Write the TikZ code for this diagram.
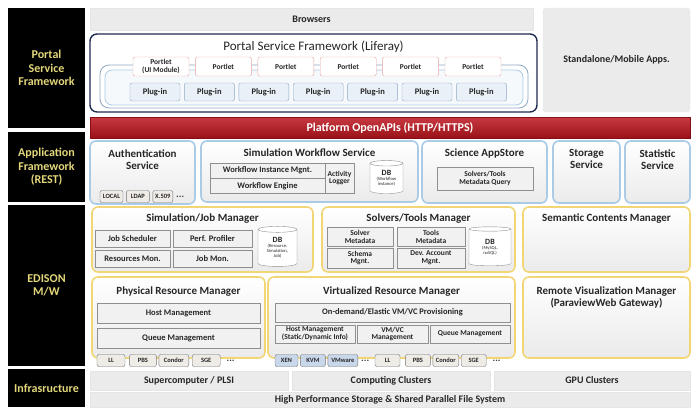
\documentclass[tikz,border=0pt]{standalone}
\usepackage{fontspec}
\setmainfont{Carlito}
\usetikzlibrary{shapes.geometric, positioning}

\definecolor{layertext}{HTML}{E3D77A}
\definecolor{apired}{HTML}{C0161F}
\definecolor{appblue}{HTML}{A9CBE6}
\definecolor{mwyellow}{HTML}{F2D675}
\definecolor{cellfill}{HTML}{F1F1F1}
\definecolor{cellline}{HTML}{8F8F8F}
\definecolor{portalnavy}{HTML}{1F2A4E}
\definecolor{portletred}{HTML}{E8A3A3}
\definecolor{pluginfill}{HTML}{E9F0F8}
\definecolor{pluginline}{HTML}{8EA8C3}
\definecolor{chipfill}{HTML}{EFEBE6}
\definecolor{vmfill}{HTML}{C9D7EA}
\definecolor{greybar}{HTML}{EBEBEB}

\newcommand{\dbnote}{\fontsize{4.6}{5}\selectfont}
\newcommand{\dbname}{\fontsize{8}{8.5}\selectfont\bfseries}

\tikzstyle{layer} = [fill=black, text=layertext, font=\fontsize{12}{13.5}\selectfont\bfseries, align=center, minimum width=77pt, inner sep=0pt]
\tikzstyle{greybox} = [fill=greybar, draw=black!10, text=black!85, font=\fontsize{10}{11}\selectfont\bfseries, align=center, inner sep=0pt]
\tikzstyle{portal} = [draw=portalnavy, line width=1.4pt, rounded corners=7pt, fill=white]
\tikzstyle{plugbox} = [draw=pluginline, line width=0.8pt, rounded corners=9pt, fill=white]
\tikzstyle{plugbed} = [draw=appblue, line width=0.8pt, rounded corners=7pt, fill=pluginfill!40]
\tikzstyle{portlet} = [draw=portletred, rounded corners=2pt, fill=white, text=black!85, font=\fontsize{7.5}{8}\selectfont\bfseries, align=center, inner sep=0pt, minimum width=56pt, minimum height=19pt]
\tikzstyle{plugin} = [draw=pluginline, rounded corners=2pt, fill=pluginfill, text=black!85, font=\fontsize{8.5}{9}\selectfont\bfseries, inner sep=0pt, minimum width=50pt, minimum height=18pt]
\tikzstyle{openapi} = [draw=apired!70!black, top color=apired!85!white, bottom color=apired!80!black, text=white, font=\fontsize{12}{13}\selectfont\bfseries, inner sep=0pt]
\tikzstyle{appbox} = [draw=appblue, line width=1.6pt, rounded corners=6pt, top color=white, bottom color=black!8]
\tikzstyle{mwbox} = [draw=mwyellow, line width=1.6pt, rounded corners=6pt, top color=white, bottom color=black!8]
\tikzstyle{title} = [font=\fontsize{11}{12}\selectfont\bfseries, text=black!85, align=center, inner sep=0pt]
\tikzstyle{cell} = [draw=cellline, fill=cellfill, text=black!85, font=\fontsize{8.5}{9}\selectfont\bfseries, align=center, inner sep=0pt]
\tikzstyle{cellsmall} = [cell, font=\fontsize{7.5}{7.8}\selectfont\bfseries]
\tikzstyle{chip} = [draw=black!55, rounded corners=2pt, fill=chipfill, text=black!85, font=\fontsize{6.5}{7}\selectfont\bfseries, inner sep=0pt, minimum height=12pt]
\tikzstyle{vmchip} = [chip, fill=vmfill]
\tikzstyle{dots} = [font=\fontsize{10}{10}\selectfont\bfseries, text=black!75, inner sep=0pt]
\tikzstyle{db} = [cylinder, shape border rotate=90, aspect=0.28, draw=cellline, fill=white, text=black!85, font=\dbnote, align=center, inner sep=0pt]

\begin{document}
\begin{tikzpicture}[x=1pt, y=-1pt]
    \useasboundingbox (0,0) rectangle (692,407);

    % layer names on the left
    \node (lportal) [layer, minimum height=120pt] at (46.5,68) {Portal\\Service\\Framework};
    \node (lapp) [layer, minimum height=70pt] at (46.5,167) {Application\\Framework\\(REST)};
    \node (ledison) [layer, minimum height=161pt] at (46.5,285.5) {EDISON\\M/W};
    \node (linfra) [layer, minimum height=38pt] at (46.5,388) {Infrasructure};

    % portal
    \node (browsers) [greybox, minimum width=443pt, minimum height=22pt] at (311.5,19) {Browsers};
    \node (mobile) [greybox, rounded corners=3pt, minimum width=147pt, minimum height=104pt] at (616.5,60) {Standalone/Mobile Apps.};
    \node (psf) [portal, minimum width=447pt, minimum height=78pt] at (313.5,73) {};
    \node (psft) [below=7pt of psf.north, inner sep=0pt, font=\fontsize{13}{14}\selectfont, text=black!85] {Portal Service Framework (Liferay)};
    \node (plugout) [plugbox, minimum width=428pt, minimum height=43pt] at (314,86.5) {};
    \node (plugin) [plugbed, minimum width=418pt, minimum height=35pt] at (314,87.5) {};

    \node (pl1) [portlet] at (161,66.5) {Portlet\\(UI Module)};
    \node (pl2) [portlet, right=6pt of pl1] {Portlet};
    \node (pl3) [portlet, right=6pt of pl2] {Portlet};
    \node (pl4) [portlet, right=6pt of pl3] {Portlet};
    \node (pl5) [portlet, right=6pt of pl4] {Portlet};
    \node (pl6) [portlet, right=6pt of pl5] {Portlet};

    \node (pi1) [plugin] at (155,92) {Plug-in};
    \node (pi2) [plugin, right=4pt of pi1] {Plug-in};
    \node (pi3) [plugin, right=4pt of pi2] {Plug-in};
    \node (pi4) [plugin, right=4pt of pi3] {Plug-in};
    \node (pi5) [plugin, right=4pt of pi4] {Plug-in};
    \node (pi6) [plugin, right=4pt of pi5] {Plug-in};
    \node (pi7) [plugin, right=4pt of pi6] {Plug-in};

    \node (openapi) [openapi, minimum width=600pt, minimum height=21pt] at (390,127.5) {Platform OpenAPIs (HTTP/HTTPS)};

    % application framework
    \node (auth) [appbox, minimum width=105pt, minimum height=63pt] at (142.5,172.5) {};
    \node (autht) [title, below=9pt of auth.north] {Authentication\\Service};
    \node (local) [chip, minimum width=23pt] at (111.5,196.5) {LOCAL};
    \node (ldap) [chip, minimum width=23pt, right=3pt of local] {LDAP};
    \node (x509) [chip, minimum width=20pt, right=3pt of ldap] {X.509};
    \node (authmore) [dots, right=3pt of x509] {...};

    \node (sws) [appbox, minimum width=217pt, minimum height=61pt] at (309.5,171.5) {};
    \node (swst) [title, below=8pt of sws.north] {Simulation Workflow Service};
    \node (wim) [cell, minimum width=115pt, minimum height=15pt] at (267.5,170.5) {Workflow Instance Mgnt.};
    \node (weng) [cell, minimum width=115pt, minimum height=15pt, below=0pt of wim] {Workflow Engine};
    \node (alog) [cellsmall, minimum width=29pt, minimum height=30pt] at (339.5,178) {Activity\\Logger};
    \node (swsdb) [db, minimum width=33pt, minimum height=33pt] at (386.5,178.5) {{\dbname DB}\\(Workflow\\instance)};

    \node (sas) [appbox, minimum width=125pt, minimum height=62pt] at (484.5,172) {};
    \node (sast) [title, below=8pt of sas.north] {Science AppStore};
    \node (smq) [cellsmall, minimum width=96pt, minimum height=23pt] at (485,178.5) {Solvers/Tools\\Metadata Query};

    \node (storage) [appbox, minimum width=67pt, minimum height=62pt] at (586.5,172) {};
    \node (storaget) [title, below=9pt of storage.north] {Storage\\Service};
    \node (statistic) [appbox, minimum width=65pt, minimum height=62pt] at (657.5,172) {};
    \node (statistict) [title, below=9pt of statistic.north] {Statistic\\Service};

    % middleware, upper row
    \node (sjm) [mwbox, minimum width=221pt, minimum height=65pt] at (202.5,239.5) {};
    \node (sjmt) [title, below=7pt of sjm.north] {Simulation/Job Manager};
    \node (jsch) [cell, minimum width=75pt, minimum height=17pt] at (132.5,238.5) {Job Scheduler};
    \node (pprof) [cell, minimum width=79pt, minimum height=17pt] at (212.5,238.5) {Perf. Profiler};
    \node (rmon) [cell, minimum width=75pt, minimum height=17pt] at (132.5,258.5) {Resources Mon.};
    \node (jmon) [cell, minimum width=79pt, minimum height=17pt] at (212.5,258.5) {Job Mon.};
    \node (sjmdb) [db, minimum width=39pt, minimum height=40pt] at (277.5,248) {{\dbname DB}\\(Resource,\\Simulation,\\Job)};

    \node (stm) [mwbox, minimum width=193pt, minimum height=65pt] at (418.5,239.5) {};
    \node (stmt) [title, below=7pt of stm.north] {Solvers/Tools Manager};
    \node (smeta) [cellsmall, minimum width=66pt, minimum height=19pt] at (360,236.5) {Solver\\Metadata};
    \node (tmeta) [cellsmall, minimum width=68pt, minimum height=19pt] at (431,236.5) {Tools\\Metadata};
    \node (schm) [cellsmall, minimum width=66pt, minimum height=20pt] at (360,258) {Schema\\Mgnt.};
    \node (devm) [cellsmall, minimum width=68pt, minimum height=20pt] at (431,258) {Dev. Account\\Mgnt.};
    \node (stmdb) [db, minimum width=42pt, minimum height=39pt] at (490,247.5) {{\dbname DB}\\(MySQL,\\noSQL)};

    \node (scm) [mwbox, minimum width=167pt, minimum height=65pt] at (606.5,239.5) {};
    \node (scmt) [title, below=7pt of scm.north] {Semantic Contents Manager};

    % middleware, lower row
    \node (prm) [mwbox, minimum width=173pt, minimum height=81pt] at (178.5,317.5) {};
    \node (prmt) [title, below=10pt of prm.north] {Physical Resource Manager};
    \node (phost) [cell, minimum width=163pt, minimum height=20pt] at (178.5,313) {Host Management};
    \node (pqueue) [cell, minimum width=163pt, minimum height=20pt] at (178.5,338) {Queue Management};
    \node (pll) [chip, minimum width=28pt] at (111,360.5) {LL};
    \node (ppbs) [chip, minimum width=27pt, right=4pt of pll] {PBS};
    \node (pcondor) [chip, minimum width=30pt, right=2pt of ppbs] {Condor};
    \node (psge) [chip, minimum width=28pt, right=3pt of pcondor] {SGE};
    \node (pmore) [dots, right=6pt of psge] {...};

    \node (vrm) [mwbox, minimum width=247pt, minimum height=81pt] at (391.5,317.5) {};
    \node (vrmt) [title, below=10pt of vrm.north] {Virtualized Resource Manager};
    \node (odp) [cell, minimum width=235pt, minimum height=19pt] at (392.5,312.5) {On-demand/Elastic VM/VC Provisioning};
    \node (vhost) [cellsmall, minimum width=80pt, minimum height=18pt] at (315,334) {Host Management\\(Static/Dynamic Info)};
    \node (vmvc) [cellsmall, minimum width=71pt, minimum height=18pt] at (392.5,334) {VM/VC\\Management};
    \node (vqueue) [cellsmall, minimum width=80pt, minimum height=18pt] at (470,334) {Queue Management};
    \node (xen) [vmchip, minimum width=23pt] at (286.5,360.5) {XEN};
    \node (kvm) [vmchip, minimum width=25pt, right=2pt of xen] {KVM};
    \node (vmware) [vmchip, minimum width=30pt, right=2pt of kvm] {VMware};
    \node (vmore) [dots, right=3pt of vmware] {...};
    \node (vll) [chip, minimum width=25pt] at (387.5,360.5) {LL};
    \node (vpbs) [chip, minimum width=25pt, right=5pt of vll] {PBS};
    \node (vcondor) [chip, minimum width=26pt, right=2pt of vpbs] {Condor};
    \node (vsge) [chip, minimum width=25pt, right=2pt of vcondor] {SGE};
    \node (vqmore) [dots, right=6pt of vsge] {...};

    \node (rvm) [mwbox, minimum width=167pt, minimum height=81pt] at (606.5,317.5) {};
    \node (rvmt) [title, below=10pt of rvm.north] {Remote Visualization Manager\\(ParaviewWeb Gateway)};

    % infrastructure
    \node (scpu) [greybox, minimum width=198pt, minimum height=19pt] at (189,380.5) {Supercomputer / PLSI};
    \node (ccl) [greybox, minimum width=198pt, minimum height=19pt] at (391,380.5) {Computing Clusters};
    \node (gcl) [greybox, minimum width=196pt, minimum height=19pt] at (592,380.5) {GPU Clusters};
    \node (hps) [greybox, minimum width=600pt, minimum height=15pt] at (390,399.5) {High Performance Storage \& Shared Parallel File System};
\end{tikzpicture}
\end{document}
